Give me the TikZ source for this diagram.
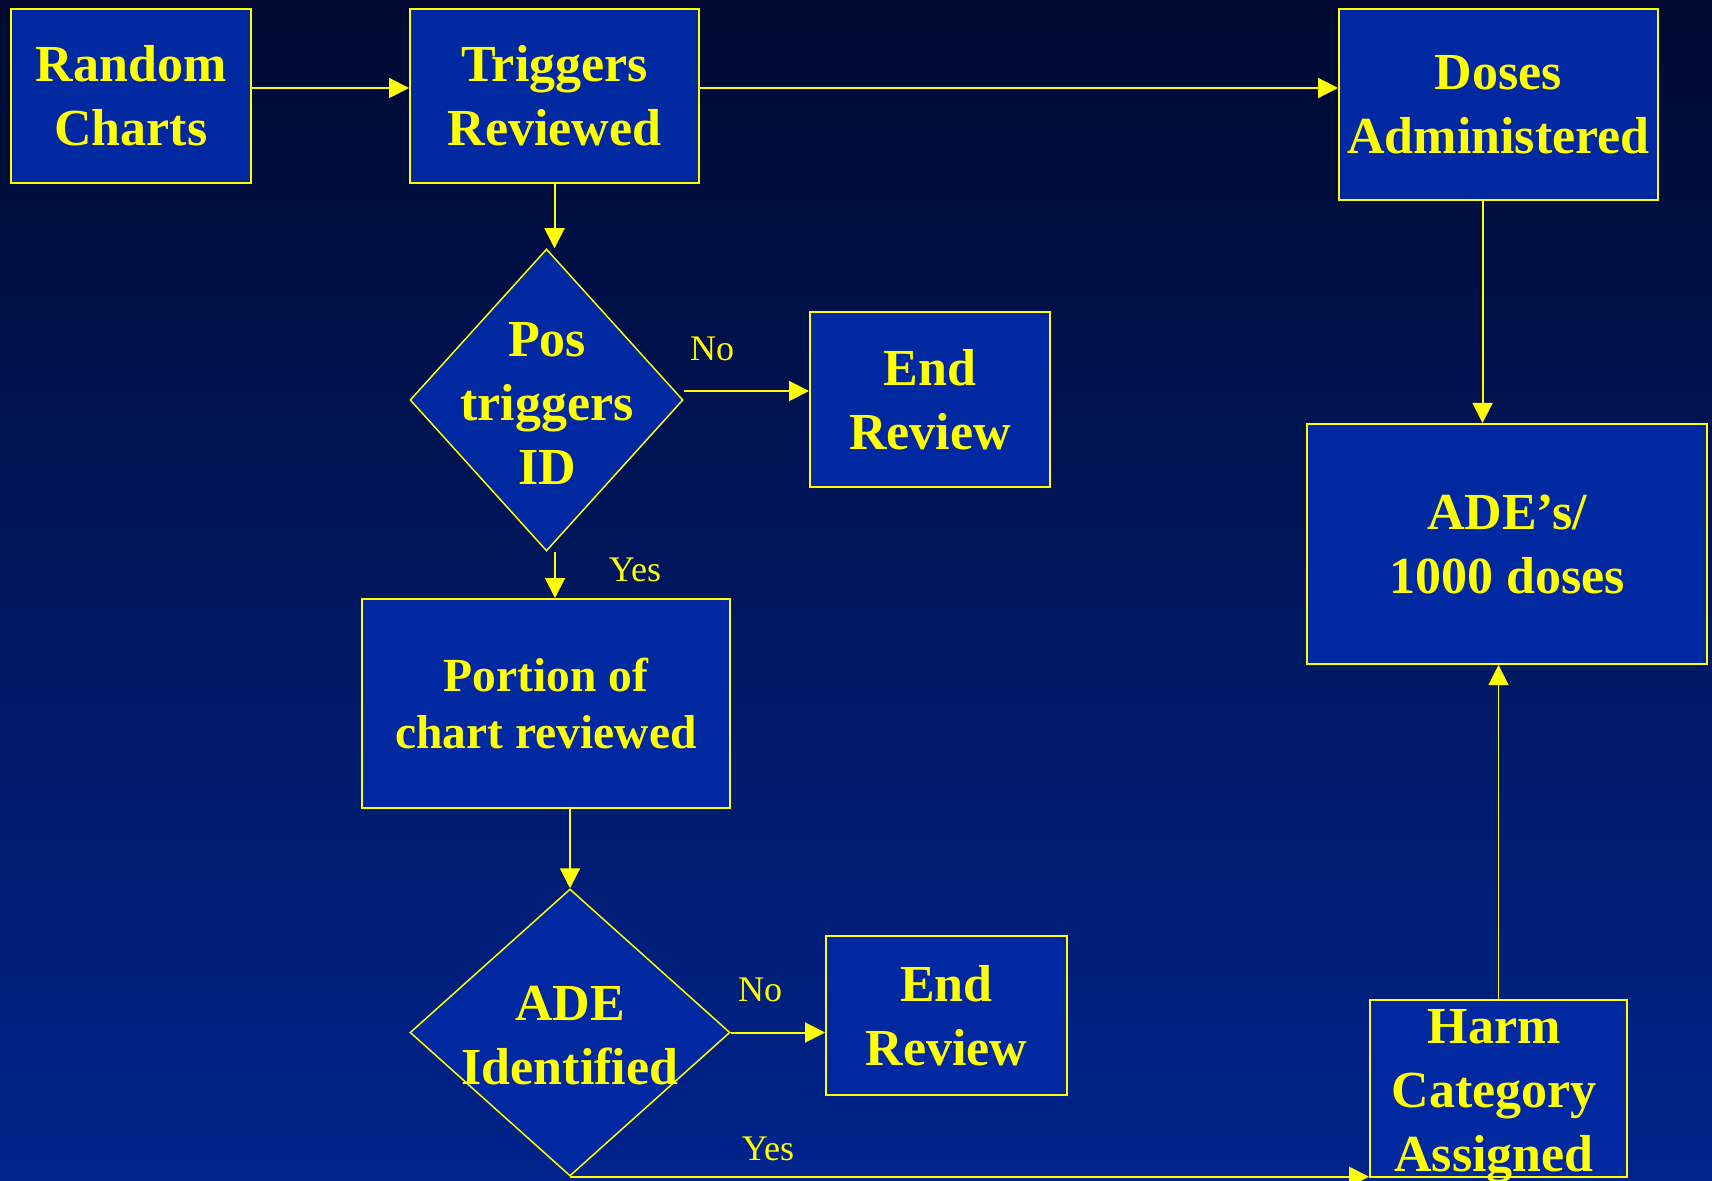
\documentclass[tikz,border=0pt]{standalone}
\usepackage{fontspec}
\setmainfont{Liberation Serif}
\usetikzlibrary{arrows.meta,shapes.geometric}
\definecolor{bgtop}{RGB}{0,10,48}
\definecolor{bgbot}{RGB}{0,36,140}
\definecolor{boxfill}{RGB}{0,40,160}
\definecolor{ylw}{RGB}{255,255,0}
\begin{document}
\begin{tikzpicture}[x=0.5pt,y=-0.5pt,
  box/.style={draw=ylw,fill=boxfill,line width=1pt,text=ylw,font=\bfseries\fontsize{26pt}{32pt}\selectfont,align=center,inner sep=0pt},
  dia/.style={diamond,draw=ylw,fill=boxfill,line width=0.75pt,inner sep=0pt,aspect=1},
  dtext/.style={text=ylw,font=\bfseries\fontsize{26pt}{32pt}\selectfont,align=center,inner sep=0pt},
  lbl/.style={text=ylw,font=\fontsize{18pt}{22pt}\selectfont,inner sep=0pt},
  arr/.style={draw=ylw,line width=1pt,-{Triangle[length=10pt,width=10pt]}},
]
\useasboundingbox (0,0) rectangle (1712,1181);
\shade[top color=bgtop,bottom color=bgbot] (0,0) rectangle (1712,1181);

\node[box,minimum width=120pt,minimum height=87pt] (rc) at (131,96) {Random\\Charts};
\node[box,minimum width=144.5pt,minimum height=87pt] (tr) at (554.5,96) {Triggers\\Reviewed};
\node[box,minimum width=159.5pt,minimum height=95.5pt] (da) at (1498.5,104.5) {Doses\\Administered};
\node[dia,minimum width=136.5pt,minimum height=151pt] (d1) at (546.5,400) {};
\node[dtext] (d1t) at (547,404) {Pos\\triggers\\ID};
\node[box,minimum width=120pt,minimum height=87.5pt] (er1) at (930,399.5) {End\\Review};
\node[box,minimum width=184pt,minimum height=104.5pt,font=\bfseries\fontsize{23.75pt}{28.5pt}\selectfont] (pc) at (546,703.5) {Portion of\\chart reviewed};
\node[dia,minimum width=160pt,minimum height=143.5pt] (d2) at (570,1032.5) {};
\node[dtext] (d2t) at (570,1036) {ADE\\Identified};
\node[box,minimum width=120.5pt,minimum height=79.5pt] (er2) at (946.5,1015.5) {End\\Review};
\node[box,minimum width=128.5pt,minimum height=88.5pt] (hc) at (1498.5,1088.5) {};
\node[dtext] (hct) at (1494,1096) {Harm\\Category\\Assigned};
\node[box,minimum width=200pt,minimum height=120pt] (ade) at (1507,544) {ADE’s/\\1000 doses};

\node[lbl] (no1) at (712,349) {No};
\node[lbl] (yes1) at (635,570) {Yes};
\node[lbl] (no2) at (760,990) {No};
\node[lbl] (yes2) at (768,1149) {Yes};

\draw[arr] ([yshift=4pt]rc.east) -- ([yshift=4pt]tr.west);
\draw[arr] ([yshift=4pt]tr.east) -- ([yshift=4pt]tr.east -| da.west);
\draw[arr] (tr.south) -- (tr.south |- d1.north);
\draw[arr] ([yshift=4.5pt]d1.east) -- ([yshift=4.5pt]d1.east -| er1.west);
\draw[arr] ([xshift=4.25pt]d1.south) -- ([xshift=4.25pt]d1.south |- pc.north);
\draw[arr] (pc.south -| d2.north) -- (d2.north);
\draw[arr] (d2.east) -- (d2.east -| er2.west);
\draw[arr] (d2.south) -- (d2.south -| hc.west);
\draw[arr,line width=0.5pt] (hc.north) -- (hc.north |- ade.south);
\draw[arr] ([xshift=-8pt]da.south) -- ([xshift=-8pt]da.south |- ade.north);
\end{tikzpicture}
\end{document}
